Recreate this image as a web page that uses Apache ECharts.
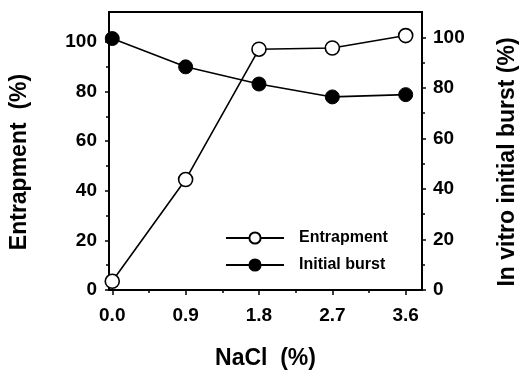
<!DOCTYPE html>
<html>
<head>
<meta charset="utf-8">
<script src="https://cdn.jsdelivr.net/npm/echarts@6/dist/echarts.min.js"></script>
<style>
html,body{margin:0;padding:0;background:#fff;}
#chart{width:527px;height:375px;}
</style>
</head>
<body>
<div id="chart"></div>
<script>
// NaCl concentration (%)
const nacl = [0, 0.9, 1.8, 2.7, 3.6];
const entrapment = [3.5, 44.5, 97, 97.5, 102.5];   // left axis
const initialBurst = [99.5, 88.3, 81.5, 76.4, 77.3]; // right axis

const xTicks = [0, 0.9, 1.8, 2.7, 3.6];
const xMinorTicks = [0.45, 1.35, 2.25, 3.15];
const yTicks = [0, 20, 40, 60, 80, 100];
const yMinorTicks = [10, 30, 50, 70, 90];

const font = "'Liberation Sans', Arial, sans-serif";
const labelStyle = {color: '#000', fontFamily: font, fontWeight: 'bold', fontSize: 19};
const nameStyle = {color: '#000', fontFamily: font, fontWeight: 'bold', fontSize: 23, padding: [0, 22, 0, 0]};
const axisLine = {show: true, onZero: false, lineStyle: {color: '#000', width: 2}};

function pairs(xs, ys) {
    return xs.map((x, i) => [x, ys[i]]);
}

const chart = echarts.init(document.getElementById('chart'));
chart.setOption({
    animation: false,
    grid: {
        left: 108, right: 101, top: 12, bottom: 80,
        show: true, borderColor: '#000', borderWidth: 2,
        containLabel: false
    },
    legend: {
        orient: 'vertical',
        left: 220, top: 225,
        itemWidth: 58, itemHeight: 14, itemGap: 11,
        textStyle: {color: '#000', fontFamily: font, fontWeight: 'bold', fontSize: 16, padding: [0, 0, 0, 10]},
        data: ['Entrapment', 'Initial burst']
    },
    xAxis: [
        {
            type: 'value', min: -0.04, max: 3.8,
            name: 'NaCl  (%)', nameLocation: 'middle', nameGap: 57,
            nameTextStyle: Object.assign({}, nameStyle, {padding: 0}),
            axisLine,
            splitLine: {show: false},
            axisTick: {show: true, inside: false, length: 5, lineStyle: {color: '#000', width: 1.5}, customValues: xTicks},
            axisLabel: Object.assign({margin: 16, customValues: xTicks,
                formatter: v => v.toFixed(1)}, labelStyle)
        },
        {
            type: 'value', min: -0.04, max: 3.8, position: 'bottom',
            axisLine: {show: false},
            splitLine: {show: false},
            axisTick: {show: true, length: 3, lineStyle: {color: '#000', width: 1.5}, customValues: xMinorTicks},
            axisLabel: {show: false}
        }
    ],
    yAxis: [
        {
            type: 'value', min: 0, max: 112, position: 'left',
            name: 'Entrapment  (%)', nameLocation: 'middle', nameGap: 78, nameRotate: 90,
            nameTextStyle: nameStyle,
            axisLine,
            splitLine: {show: false},
            axisTick: {show: true, length: 4, lineStyle: {color: '#000', width: 1.5}, customValues: yTicks},
            axisLabel: Object.assign({margin: 12, customValues: yTicks}, labelStyle)
        },
        {
            type: 'value', min: 0, max: 110, position: 'right',
            name: 'In vitro initial burst (%)', nameLocation: 'middle', nameGap: 74, nameRotate: 90,
            nameTextStyle: nameStyle,
            axisLine,
            splitLine: {show: false},
            axisTick: {show: true, length: 4, lineStyle: {color: '#000', width: 1.5}, customValues: yTicks},
            axisLabel: Object.assign({margin: 11, customValues: yTicks}, labelStyle)
        },
        {
            type: 'value', min: 0, max: 112, position: 'left',
            axisLine: {show: false, onZero: false}, splitLine: {show: false},
            axisTick: {show: true, length: 3, lineStyle: {color: '#000', width: 1.5}, customValues: yMinorTicks},
            axisLabel: {show: false}
        },
        {
            type: 'value', min: 0, max: 110, position: 'right',
            axisLine: {show: false, onZero: false}, splitLine: {show: false},
            axisTick: {show: true, length: 3, lineStyle: {color: '#000', width: 1.5}, customValues: yMinorTicks},
            axisLabel: {show: false}
        }
    ],
    series: [
        {
            name: 'Entrapment',
            type: 'line',
            xAxisIndex: 0, yAxisIndex: 0,
            data: pairs(nacl, entrapment),
            symbol: 'circle', symbolSize: 14,
            lineStyle: {color: '#000', width: 1.6},
            itemStyle: {color: '#fff', borderColor: '#000', borderWidth: 1.6},
            z: 3
        },
        {
            name: 'Initial burst',
            type: 'line',
            xAxisIndex: 0, yAxisIndex: 1,
            data: pairs(nacl, initialBurst),
            symbol: 'circle', symbolSize: 14,
            lineStyle: {color: '#000', width: 1.6},
            itemStyle: {color: '#000', borderColor: '#000', borderWidth: 1},
            z: 2
        }
    ]
});
</script>
</body>
</html>
